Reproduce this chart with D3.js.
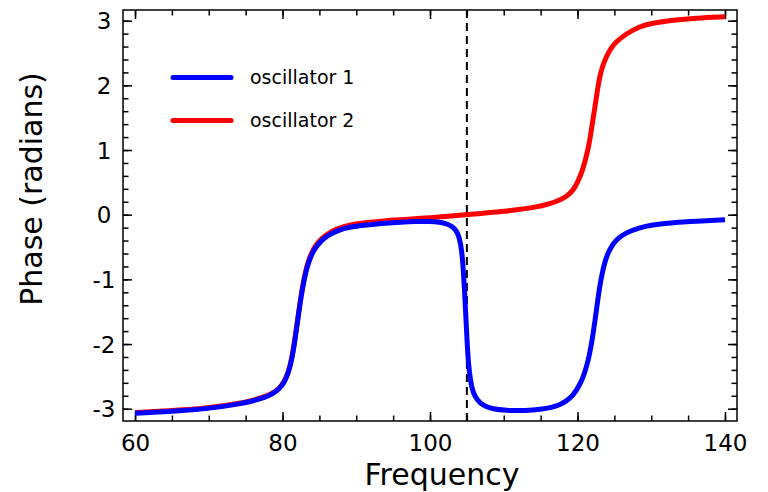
<!DOCTYPE html>
<html><head><meta charset="utf-8">
<script src="https://cdn.jsdelivr.net/npm/d3@7"></script>
<style>body{margin:0;background:#fff}svg{display:block;font-family:"DejaVu Sans",sans-serif}</style>
</head><body><svg id="c" width="768" height="492"></svg>
<script>
// Data
const freq1 = [60,65,70,74,76,77.5,78.7,79.6,80.2,80.8,81.3,81.7,82.1,82.5,82.9,83.3,83.8,84.4,85.1,86,87.3,89,91.4,94,96,98,100,101.3,102.3,103.1,103.6,104.0,104.3,104.5,104.7,104.85,105.0,105.2,105.5,105.8,106.4,107.2,108.3,110.3,113,115,116.5,117.6,118.4,119.4,120.3,120.8,121.2,121.6,122.0,122.4,122.7,123.0,123.3,123.7,124.3,125.2,126.5,128.4,130,133,136,140];
const phase1 = [-3.07,-3.04,-3.00,-2.93,-2.88,-2.83,-2.77,-2.69,-2.60,-2.45,-2.22,-1.93,-1.60,-1.28,-1.02,-0.82,-0.65,-0.52,-0.42,-0.33,-0.25,-0.19,-0.16,-0.13,-0.115,-0.105,-0.105,-0.115,-0.14,-0.19,-0.25,-0.36,-0.55,-0.82,-1.2,-1.55,-1.9,-2.3,-2.58,-2.74,-2.87,-2.95,-3.00,-3.03,-3.03,-3.01,-2.98,-2.94,-2.89,-2.80,-2.63,-2.50,-2.36,-2.18,-1.93,-1.62,-1.36,-1.12,-0.93,-0.73,-0.54,-0.39,-0.28,-0.20,-0.16,-0.12,-0.10,-0.08];
const freq2 = [60,65,70,74,76,77.5,78.7,79.6,80.2,80.8,81.3,81.7,82.1,82.5,82.9,83.3,83.8,84.4,85.1,86,87.3,89,91.4,94,97,100,103,105,108,110,112,114,116,117.5,118.5,119.4,120.1,120.7,121.2,121.6,122.0,122.3,122.7,123.0,123.4,123.9,124.5,125.2,126.5,128.4,130,133,136,140];
const phase2 = [-3.06,-3.03,-2.99,-2.92,-2.87,-2.82,-2.76,-2.68,-2.59,-2.44,-2.20,-1.91,-1.58,-1.26,-1.00,-0.79,-0.62,-0.49,-0.39,-0.30,-0.22,-0.16,-0.12,-0.09,-0.07,-0.05,-0.02,0.0,0.03,0.05,0.08,0.11,0.16,0.22,0.28,0.37,0.52,0.69,0.90,1.10,1.40,1.62,1.92,2.13,2.30,2.44,2.57,2.67,2.79,2.91,2.96,3.01,3.04,3.06];
const seriesNames = ["oscillator 1","oscillator 2"];
const seriesColors = ["#0000ff","#ff0000"];
const xTicks = [60,80,100,120,140];
const yTicks = [-3,-2,-1,0,1,2,3];
const markerFreq = 105;
const xLabel = "Frequency", yLabel = "Phase (radians)";

const svg = d3.select("#c");
const L=123, R=737, T=10, B=421;
const x = d3.scaleLinear().domain([58.37,141.63]).range([L,R]);
const y = d3.scaleLinear().domain([-3.19,3.165]).range([B,T]);

const xMinor = d3.range(60,141,5), yMinor = d3.range(-3,3.01,0.2).map(v=>+v.toFixed(1));

function ax(axisGen, tr){
  const g = svg.append("g").attr("transform",tr).call(axisGen);
  g.select(".domain").remove();
  g.selectAll("line").attr("stroke","#000").attr("stroke-width",1.5);
  return g;
}
// minor ticks (inside)
ax(d3.axisBottom(x).tickValues(xMinor).tickSize(-5.5).tickFormat(""), `translate(0,${B})`);
ax(d3.axisTop(x).tickValues(xMinor).tickSize(-5.5).tickFormat(""), `translate(0,${T})`);
ax(d3.axisLeft(y).tickValues(yMinor).tickSize(-5.5).tickFormat(""), `translate(${L},0)`);
ax(d3.axisRight(y).tickValues(yMinor).tickSize(-5.5).tickFormat(""), `translate(${R},0)`);
// major ticks
const gx = ax(d3.axisBottom(x).tickValues(xTicks).tickSize(-9).tickPadding(0).tickFormat(d3.format("d")), `translate(0,${B})`);
gx.selectAll("text").attr("dy",null).attr("y",30).attr("font-size",23).attr("font-family","DejaVu Sans").attr("fill","#000");
ax(d3.axisTop(x).tickValues(xTicks).tickSize(-9).tickFormat(""), `translate(0,${T})`);
const gy = ax(d3.axisLeft(y).tickValues(yTicks).tickSize(-9).tickFormat(d3.format("d")), `translate(${L},0)`);
gy.selectAll("text").attr("x",-19).attr("dy","0.36em").attr("text-anchor","middle").attr("font-size",23).attr("font-family","DejaVu Sans").attr("fill","#000").text(d=>d<0?"-"+Math.abs(d):d);
ax(d3.axisRight(y).tickValues(yTicks).tickSize(-9).tickFormat(""), `translate(${R},0)`);

// dashed marker
svg.append("line").attr("x1",x(markerFreq)).attr("x2",x(markerFreq)).attr("y1",T).attr("y2",B)
  .attr("stroke","#000").attr("stroke-width",2).attr("stroke-dasharray","8,5");

const line = d3.line().x(d=>x(d[0])).y(d=>y(d[1])).curve(d3.curveBasis);
const data = [freq2.map((f,i)=>[f,phase2[i]]), freq1.map((f,i)=>[f,phase1[i]])];
const cols = [seriesColors[1], seriesColors[0]];
data.forEach((d,i)=>svg.append("path").attr("d",line(d)).attr("fill","none").attr("stroke",cols[i]).attr("stroke-width",5).attr("stroke-linejoin","round").attr("stroke-linecap","butt"));

// frame
svg.append("rect").attr("x",L).attr("y",T).attr("width",R-L).attr("height",B-T).attr("fill","none").attr("stroke","#000").attr("stroke-width",1.5);

// legend
const lg = svg.append("g");
seriesNames.forEach((n,i)=>{
  const yy = 77.5 + i*43;
  lg.append("line").attr("x1",173).attr("x2",231).attr("y1",yy).attr("y2",yy).attr("stroke",seriesColors[i]).attr("stroke-width",5).attr("stroke-linecap","round");
  lg.append("text").attr("x",250).attr("y",yy).attr("dy","0.35em").attr("font-size",19).text(n);
});

// axis labels
svg.append("text").attr("x",442).attr("y",485).attr("text-anchor","middle").attr("font-size",30).text(xLabel);
svg.append("text").attr("transform","translate(42,189) rotate(-90)").attr("text-anchor","middle").attr("font-size",30).text(yLabel);
</script></body></html>
